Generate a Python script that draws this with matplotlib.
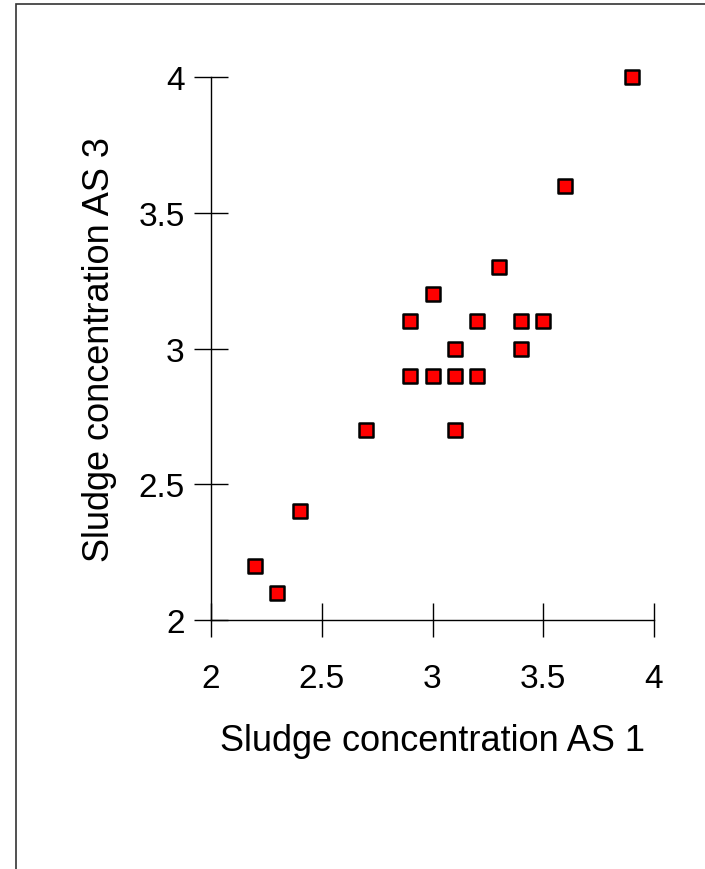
import matplotlib
matplotlib.use("Agg")
import matplotlib.pyplot as plt
from matplotlib.patches import Rectangle

# sludge concentration readings, AS 1 vs AS 3
as1 = [2.2, 2.3, 2.4, 2.7, 2.9, 2.9, 3.0, 3.0, 3.1, 3.1, 3.1, 3.2, 3.2, 3.3, 3.4, 3.4, 3.5, 3.6, 3.9]
as3 = [2.2, 2.1, 2.4, 2.7, 3.1, 2.9, 3.2, 2.9, 3.0, 2.9, 2.7, 3.1, 2.9, 3.3, 3.1, 3.0, 3.1, 3.6, 4.0]
ticks = [2, 2.5, 3, 3.5, 4]
tick_labels = ["2", "2.5", "3", "3.5", "4"]

plt.rcParams["font.family"] = ["Liberation Sans", "DejaVu Sans"]

fig = plt.figure(figsize=(7.05, 8.7), dpi=100)
fig.patch.set_facecolor("white")

# outer frame, open to the right and bottom like the source
fig.patches.append(Rectangle((16 / 705, -0.1), 1.2, 1 - 5 / 870 + 0.1,
                             transform=fig.transFigure, fill=False,
                             edgecolor="#333333", linewidth=1.2))

ax = fig.add_axes([211 / 705, 1 - 621 / 870, (654 - 211) / 705, (621 - 78) / 870])
ax.scatter(as1, as3, marker="s", s=115, facecolor="#ff0000",
           edgecolor="black", linewidth=1.8, zorder=3, clip_on=False)

ax.set_xlim(2, 4)
ax.set_ylim(2, 4)
ax.set_xticks(ticks)
ax.set_xticklabels(tick_labels)
ax.set_yticks(ticks)
ax.set_yticklabels(tick_labels)

for side in ("top", "right"):
    ax.spines[side].set_visible(False)
for side in ("left", "bottom"):
    ax.spines[side].set_linewidth(1.0)

ax.tick_params(axis="both", direction="inout", length=24, width=1.0,
               labelsize=24, colors="black")
ax.tick_params(axis="x", pad=19)
ax.tick_params(axis="y", pad=7)

ax.set_xlabel("Sludge concentration AS 1", fontsize=26, labelpad=21)
ax.set_ylabel("Sludge concentration AS 3", fontsize=26, labelpad=15)

fig.savefig("out.png", dpi=100, facecolor="white")
